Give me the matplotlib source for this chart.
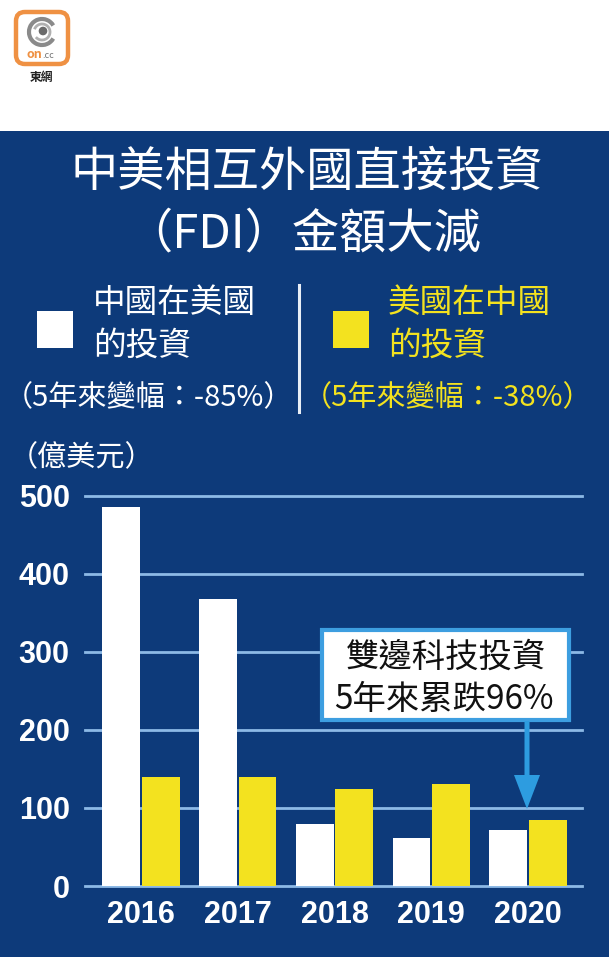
import matplotlib
matplotlib.use("Agg")
import matplotlib.pyplot as plt
import matplotlib.patches as mpatches
from matplotlib.transforms import Affine2D
import numpy as np

# ---- data ----
years = ["2016", "2017", "2018", "2019", "2020"]
china_in_us = [485, 367, 79, 61, 72]      # 中國在美國的投資
us_in_china = [140, 140, 124, 130, 85]    # 美國在中國的投資
yticks = [0, 100, 200, 300, 400, 500]
title_lines = ["中美相互外國直接投資", "（FDI）金額大減"]
legend_left = ["中國在美國", "的投資", "（5年來變幅：-85%）"]
legend_right = ["美國在中國", "的投資", "（5年來變幅：-38%）"]
unit_label = "（億美元）"
note_lines = ["雙邊科技投資", "5年來累跌96%"]

W, H = 609, 957
BLUE = "#0d3a7a"
YELLOW = "#f3e21f"
GRID = "#8cb9e6"
ARROW = "#2d9ce0"
CJK = ["Noto Sans CJK TC", "DejaVu Sans"]
NUM = ["Liberation Sans Narrow", "Liberation Sans", "DejaVu Sans"]

fig = plt.figure(figsize=(W / 100, H / 100), dpi=100)
fig.patch.set_facecolor("white")
PX = Affine2D().scale(1 / W, -1 / H).translate(0, 1) + fig.transFigure

# blue panel
fig.patches.append(mpatches.Rectangle((0, 131), W, H - 131, transform=PX,
                                      facecolor=BLUE, edgecolor="none", zorder=-5))

# ---- logo ----
fig.patches.append(mpatches.FancyBboxPatch((16, 12), 52, 52, boxstyle="round,pad=0,rounding_size=9",
                                           transform=PX, facecolor="white", edgecolor="#ef9143",
                                           linewidth=3.2, zorder=2))
fig.patches.append(mpatches.Arc((42, 32), 26, 26, theta1=30, theta2=330, transform=PX,
                                color="#8a8a8a", linewidth=3.0, zorder=3))
fig.patches.append(mpatches.Arc((42, 32), 16, 16, theta1=200, theta2=140, transform=PX,
                                color="#b0b0b0", linewidth=2.0, zorder=3))
fig.patches.append(mpatches.Circle((43, 31), 3.6, transform=PX, color="#6a6a6a", zorder=3))
fig.text(42, 54, "on", transform=PX, fontsize=9, fontweight="bold", color="#ef9143",
         ha="right", va="center", family=CJK, zorder=4)
fig.text(42, 55, ".cc", transform=PX, fontsize=6.5, color="#777777",
         ha="left", va="center", family=CJK, zorder=4)
fig.text(41, 77, "東網", transform=PX, fontsize=8.5, color="#222222",
         ha="center", va="center", family=CJK, fontweight="bold")

# ---- title ----
fig.text(307, 172, title_lines[0], transform=PX, fontsize=34, color="white",
         ha="center", va="center", family=CJK)
fig.text(303, 234, title_lines[1], transform=PX, fontsize=34, color="white",
         ha="center", va="center", family=CJK)

# ---- legend ----
fig.patches.append(mpatches.Rectangle((37, 311), 36, 37, transform=PX, facecolor="white",
                                      edgecolor="none", zorder=2))
fig.patches.append(mpatches.Rectangle((333, 311), 36, 37, transform=PX, facecolor=YELLOW,
                                      edgecolor="none", zorder=2))
for txt, yy in zip(legend_left[:2], [303, 346]):
    fig.text(93, yy, txt, transform=PX, fontsize=23.5, color="white", ha="left",
             va="center", family=CJK)
for txt, yy in zip(legend_right[:2], [303, 346]):
    fig.text(388, yy, txt, transform=PX, fontsize=23.5, color=YELLOW, ha="left",
             va="center", family=CJK)
fig.text(148, 398, legend_left[2], transform=PX, fontsize=21, color="white",
         ha="center", va="center", family=CJK)
fig.text(448, 398, legend_right[2], transform=PX, fontsize=21, color=YELLOW,
         ha="center", va="center", family=CJK)
fig.lines.append(plt.Line2D([299, 299], [285, 412], transform=PX, color="#e8eef6", linewidth=2.2))

fig.text(82, 458, unit_label, transform=PX, fontsize=21, color="white",
         ha="center", va="center", family=CJK)

# ---- chart axes ----
left_px, right_px, top_px, bot_px = 85, 582, 495.5, 886
ax = fig.add_axes([left_px / W, 1 - bot_px / H, (right_px - left_px) / W, (bot_px - top_px) / H])
ax.set_zorder(1)
ax.set_facecolor("none")
x = np.arange(len(years))
ax.set_xlim(-0.579, 4.558)
ax.set_ylim(0, 500)
for t in yticks:
    ax.axhline(t, color=GRID, linewidth=2.0, zorder=1, clip_on=False)
w = 0.39
ax.bar(x - 0.205, china_in_us, width=w, color="white", zorder=2)
ax.bar(x + 0.205, us_in_china, width=w, color=YELLOW, zorder=2)
for s in ax.spines.values():
    s.set_visible(False)
ax.set_yticks(yticks)
ax.set_yticklabels([str(t) for t in yticks])
ax.set_xticks(x)
ax.set_xticklabels(years)
ax.tick_params(axis="both", length=0, colors="white")
ax.tick_params(axis="y", pad=11)
ax.tick_params(axis="x", pad=10)
for lab in ax.get_yticklabels() + ax.get_xticklabels():
    lab.set_fontfamily(NUM)
    lab.set_fontweight("bold")
    lab.set_fontsize(22)
    lab.set_color("white")

# ---- annotation box and arrow ----
fig.patches.append(mpatches.Rectangle((322, 630), 247, 90, transform=PX, facecolor="white",
                                      edgecolor="#3d9ee0", linewidth=3.0, zorder=5))
fig.text(446, 657, note_lines[0], transform=PX, fontsize=24, color="#111111",
         ha="center", va="center", family=CJK, zorder=6)
fig.text(444, 700, note_lines[1], transform=PX, fontsize=24, color="#111111",
         ha="center", va="center", family=CJK, zorder=6)
fig.patches.append(mpatches.FancyArrow(527, 721, 0, 88, width=5, head_width=26, head_length=34,
                                       length_includes_head=True, transform=PX,
                                       facecolor=ARROW, edgecolor="none", zorder=5))

fig.savefig("out.png", dpi=100)
